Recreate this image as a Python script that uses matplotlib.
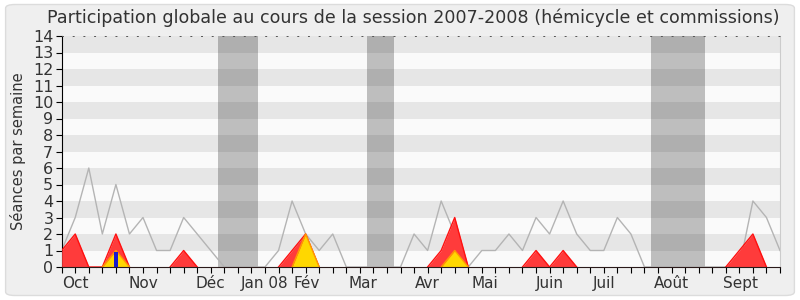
import matplotlib
matplotlib.use("Agg")
import matplotlib.pyplot as plt
from matplotlib.patches import FancyBboxPatch
import numpy as np

title = "Participation globale au cours de la session 2007-2008 (hémicycle et commissions)"
ylabel = "Séances par semaine"

weeks = list(range(54))
median_line = [1, 3, 6, 2, 5, 2, 3, 1, 1, 3, 2, 1, 0, 0, 0, 0, 1, 4, 2, 1,
               2, 0, 0, 0, 0, 0, 2, 1, 4, 2, 0, 1, 1, 2, 1, 3, 2, 4, 2, 1,
               1, 3, 2, 0, 0, 0, 0, 0, 0, 0, 0, 4, 3, 1]
commission = [1, 2, 0, 0, 2, 0, 0, 0, 0, 1, 0, 0, 0, 0, 0, 0, 0, 1, 2, 0,
              0, 0, 0, 0, 0, 0, 0, 0, 1, 3, 0, 0, 0, 0, 0, 1, 0, 1, 0, 0,
              0, 0, 0, 0, 0, 0, 0, 0, 0, 0, 1, 2, 0, 0]
hemicycle = [0, 0, 0, 0, 1, 0, 0, 0, 0, 0, 0, 0, 0, 0, 0, 0, 0, 0, 2, 0,
             0, 0, 0, 0, 0, 0, 0, 0, 0, 1, 0, 0, 0, 0, 0, 0, 0, 0, 0, 0,
             0, 0, 0, 0, 0, 0, 0, 0, 0, 0, 0, 0, 0, 0]
interventions_week = [4]
interventions_val = [0.9]
vacations = [(11.5, 14.5), (22.5, 24.5), (43.5, 47.5)]
month_labels = ["Oct", "Nov", "Déc", "Jan 08", "Fév", "Mar", "Avr", "Mai",
                "Juin", "Juil", "Août", "Sept"]
month_pos = [1, 6, 11, 15, 18.1, 22.2, 27, 31.2, 36, 40, 45, 50.1]


def edge_mask(vals):
    v = np.array(vals, dtype=float)
    keep = v > 0
    keep[:-1] |= v[1:] > 0
    keep[1:] |= v[:-1] > 0
    return np.ma.masked_where(~keep, v)


fig = plt.figure(figsize=(8, 3), dpi=100)
fig.patch.set_facecolor("white")
bg = FancyBboxPatch((0.007, 0.015), 0.986, 0.97, boxstyle="round,pad=0,rounding_size=0.012",
                    transform=fig.transFigure, facecolor="#efefef", edgecolor="#dcdcdc",
                    linewidth=1.0, zorder=-10)
fig.patches.append(bg)

ax = fig.add_axes([0.0771, 0.11, 0.8979, 0.77])
ax.set_xlim(0, 53)
ax.set_ylim(0, 14)
ax.set_facecolor("#fafafa")

for k in range(1, 14, 2):
    ax.axhspan(k, k + 1, color="#e6e6e6", lw=0, zorder=0)

for a, b in vacations:
    ax.axvspan(a, b, color="black", alpha=0.24, lw=0, zorder=1)

x = np.array(weeks)
ax.plot(x, median_line, color="#b4b4b4", lw=1.0, zorder=2)
ax.fill_between(x, 0, commission, color="#ff3b3b", lw=0, zorder=3)
ax.plot(x, edge_mask(commission), color="#ff1010", lw=1.0, zorder=3)
ax.fill_between(x, 0, hemicycle, color="#ffd700", lw=0, zorder=4)
ax.plot(x, edge_mask(hemicycle), color="#ff9900", lw=1.0, zorder=4)
ax.bar(interventions_week, interventions_val, width=0.32, color="#1a1acc", zorder=5)

ax.set_yticks(range(0, 15))
ax.set_yticklabels([str(i) for i in range(0, 15)], fontsize=11.5, color="#333333")
ax.set_xticks(range(0, 54))
ax.set_xticklabels([])
ax.tick_params(axis="x", length=4, width=0.8, color="black", direction="out")
ax.tick_params(axis="y", length=4, width=0.8, color="black", pad=2)

for lab, p in zip(month_labels, month_pos):
    ax.text(p, -0.55, lab, ha="center", va="top", fontsize=11, color="#333333")

ax.spines["bottom"].set_color("#2a1a1a")
ax.spines["bottom"].set_zorder(6)
ax.spines["left"].set_color("black")
ax.spines["right"].set_color("#cccccc")
ax.spines["top"].set_color("#555555")
ax.spines["top"].set_linestyle((0, (1, 10)))
ax.spines["top"].set_linewidth(0.7)

fig.text(0.516, 0.94, title, ha="center", va="center", fontsize=12.6, color="#333333")
fig.text(0.023, 0.495, ylabel, ha="center", va="center", rotation=90, fontsize=10.5, color="#333333")

fig.savefig("out.png", dpi=100, facecolor=fig.get_facecolor())
